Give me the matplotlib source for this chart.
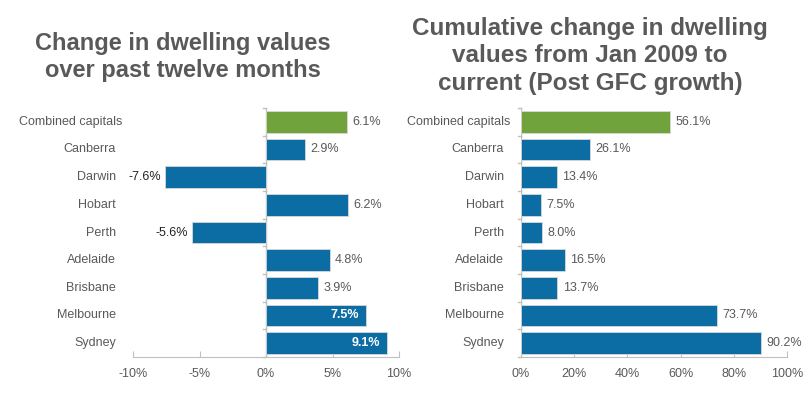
import numpy as np
import matplotlib.pyplot as plt
from matplotlib.transforms import blended_transform_factory

# === DATOS ===
cities = ['Combined capitals', 'Canberra', 'Darwin', 'Hobart', 'Perth',
          'Adelaide', 'Brisbane', 'Melbourne', 'Sydney']
change_12m = [6.1, 2.9, -7.6, 6.2, -5.6, 4.8, 3.9, 7.5, 9.1]
change_gfc = [56.1, 26.1, 13.4, 7.5, 8.0, 16.5, 13.7, 73.7, 90.2]
ticks_12m = [-10, -5, 0, 5, 10]
ticks_gfc = [0, 20, 40, 60, 80, 100]

title_12m = 'Change in dwelling values\nover past twelve months'
title_gfc = 'Cumulative change in dwelling\nvalues from Jan 2009 to\ncurrent (Post GFC growth)'

BLUE = '#0c6ca4'
GREEN = '#70a33b'
GREY = '#595959'
SPINE = '#c0c0c0'
FS = 9

plt.rcParams['font.family'] = ['Liberation Sans', 'DejaVu Sans']

fig = plt.figure(figsize=(8.12, 3.98), dpi=100)
ax1 = fig.add_axes([133/812, 1-357/398, 266/812, 249/398])
ax2 = fig.add_axes([521/812, 1-357/398, 266/812, 249/398])

y = np.arange(len(cities))
colors = [GREEN] + [BLUE] * (len(cities) - 1)


def style_axis(ax, ticks, label_x, first_x):
    ax.set_ylim(len(cities) - 0.5, -0.5)
    ax.set_xlim(ticks[0], ticks[-1])
    ax.set_xticks(ticks)
    ax.set_xticklabels([f'{t}%' for t in ticks], fontsize=FS, color=GREY)
    ax.set_yticks(np.arange(len(cities) + 1) - 0.5)
    ax.set_yticklabels([])
    for s in ['top', 'right', 'left']:
        ax.spines[s].set_visible(False)
    ax.spines['bottom'].set_color(SPINE)
    ax.axvline(0, color=SPINE, lw=1, zorder=1)
    ax.tick_params(axis='x', colors=SPINE, labelcolor=GREY, length=4, direction='in', pad=8)
    ax.tick_params(axis='y', length=0)
    # marcas de categoría sobre el eje 0
    for b in np.arange(len(cities) + 1) - 0.5:
        ax.plot([-(ticks[-1] - ticks[0]) * 0.012, 0], [b, b],
                color=SPINE, lw=1, clip_on=False)
    tr = blended_transform_factory(fig.transFigure, ax.transData)
    for yi, name in zip(y, cities):
        xx = first_x if yi == 0 else label_x
        ax.text(xx, yi, name, transform=tr, ha='right', va='center',
                fontsize=FS, color=GREY)


# === IZQUIERDA ===
ax1.barh(y, change_12m, height=0.78, color=colors, edgecolor='#d8d8d8', lw=0.6, zorder=2)
style_axis(ax1, ticks_12m, 116/812, 122/812)
for yi, v in zip(y, change_12m):
    if v >= 7:
        ax1.text(v - 0.5, yi, f'{v:.1f}%', ha='right', va='center', fontsize=FS,
                 color='white', fontweight='bold')
    elif v < 0:
        ax1.text(v - 0.25, yi, f'{v:.1f}%', ha='right', va='center', fontsize=FS, color='#222222')
    else:
        ax1.text(v + 0.4, yi, f'{v:.1f}%', ha='left', va='center', fontsize=FS, color=GREY)

# === DERECHA ===
ax2.barh(y, change_gfc, height=0.78, color=colors, edgecolor='#d8d8d8', lw=0.6, zorder=2)
style_axis(ax2, ticks_gfc, 504/812, 510/812)
for yi, v in zip(y, change_gfc):
    ax2.text(v + 2, yi, f'{v:.1f}%', ha='left', va='center', fontsize=FS, color=GREY)

fig.text(183/812, 1-57/398, title_12m, ha='center', va='center', fontsize=17,
         fontweight='bold', color=GREY, linespacing=1.22)
fig.text(590/812, 1-56/398, title_gfc, ha='center', va='center', fontsize=17.5,
         fontweight='bold', color=GREY, linespacing=1.24)

fig.savefig('out.png', dpi=100)
